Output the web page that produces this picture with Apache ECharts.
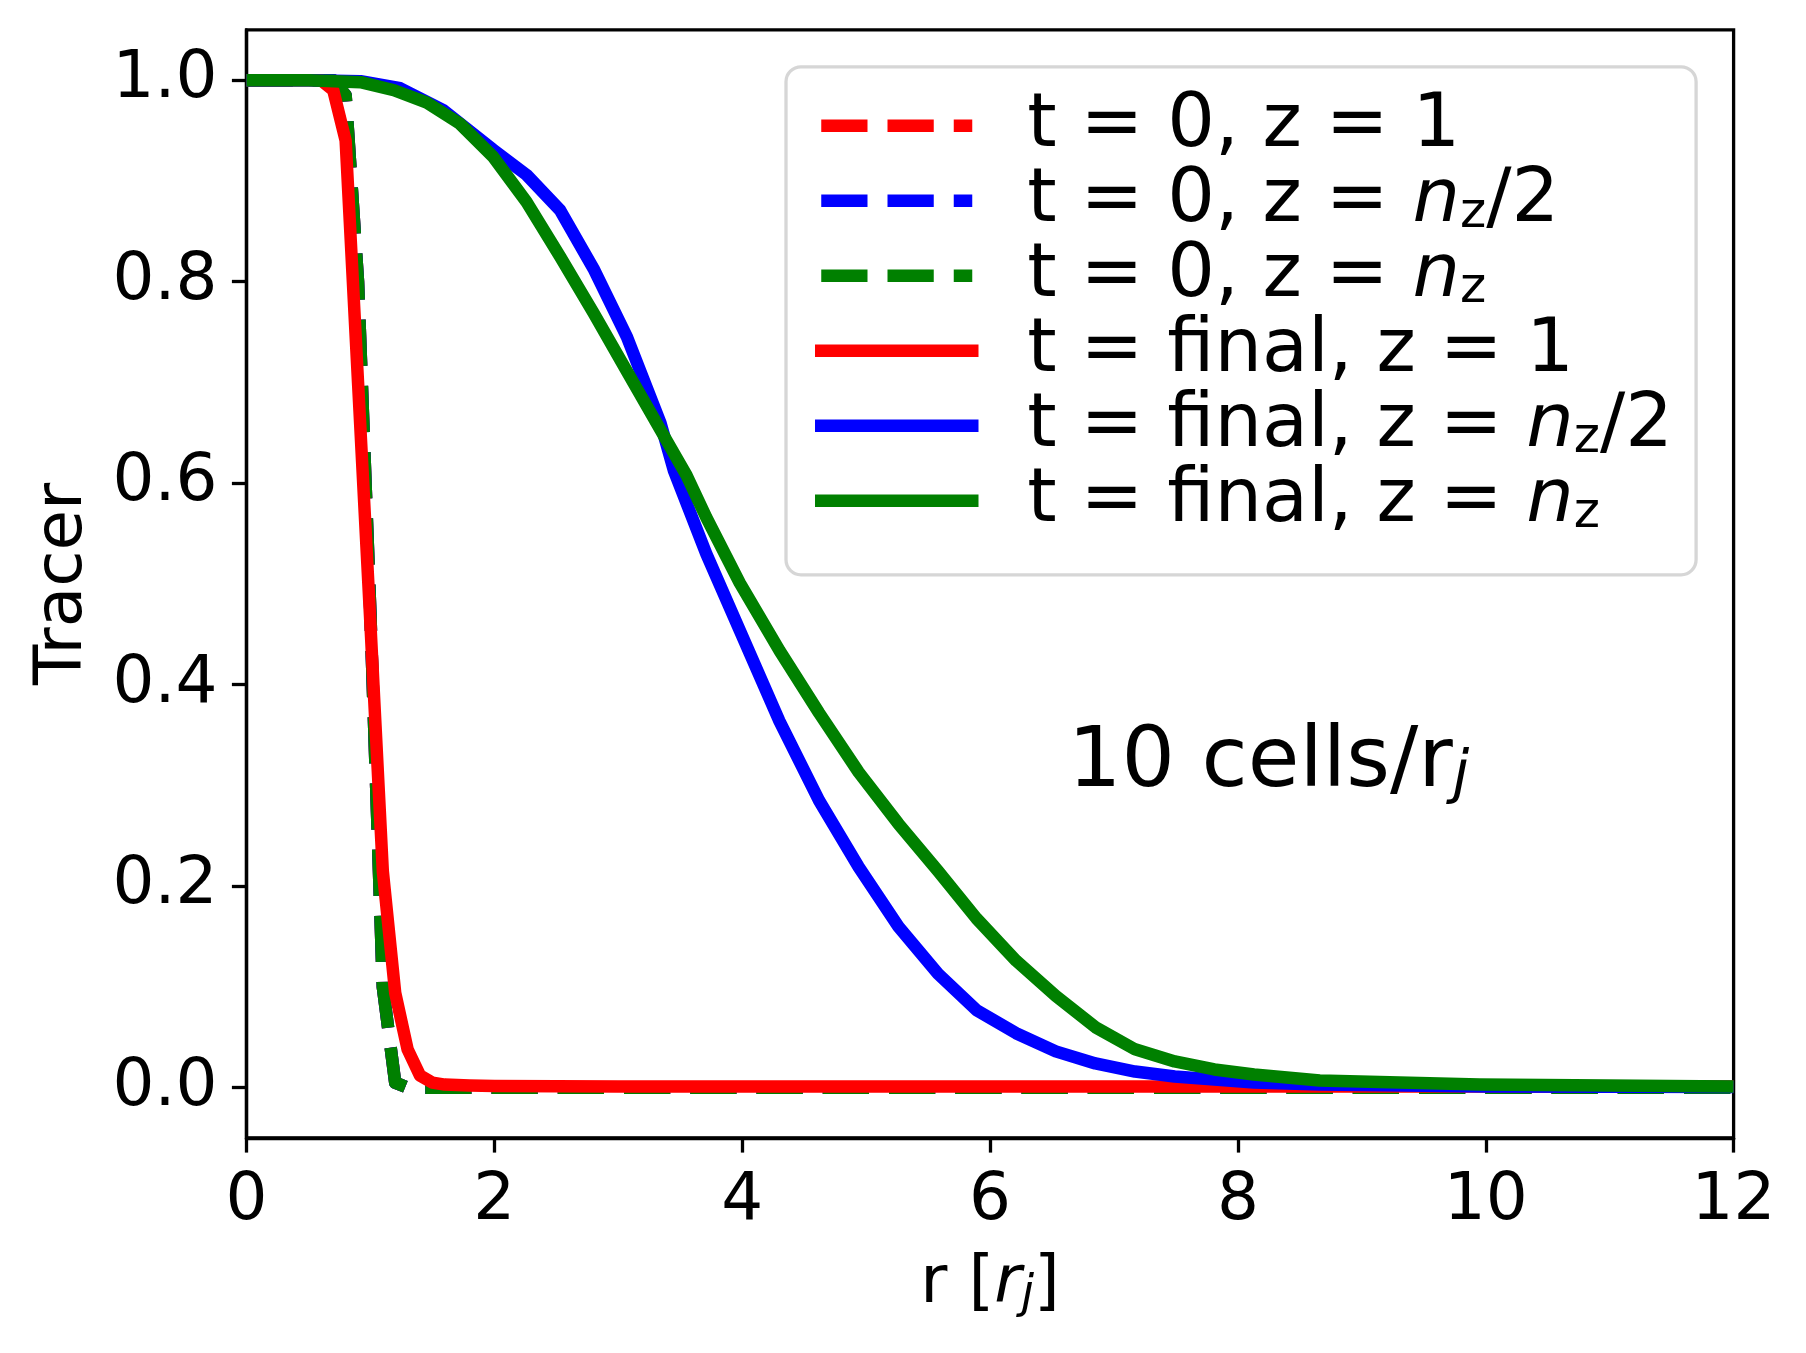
<!DOCTYPE html>
<html>
<head>
<meta charset="utf-8">
<script src="https://cdn.jsdelivr.net/npm/echarts@6/dist/echarts.min.js"></script>
<style>
html, body { margin: 0; padding: 0; background: #fff; }
#tracer_chart { width: 1806px; height: 1353px; }
</style>
</head>
<body>
<div id="tracer_chart"></div>
<script>
// radius values [r_j] and tracer values
var rInit = [0, 0.5, 0.7, 0.8, 0.9, 1.0, 1.1, 1.2, 1.3, 1.5, 2, 4, 6, 8, 10, 12];
var tracerInitZ1 = [1, 1, 1, 0.985, 0.80, 0.47, 0.10, 0.005, 0, 0, 0, 0, 0, 0, 0, 0];
var tracerInitZhalf = [1, 1, 1, 0.985, 0.80, 0.47, 0.10, 0.005, 0, 0, 0, 0, 0, 0, 0, 0];
var tracerInitZtop = [1, 1, 1, 0.985, 0.80, 0.47, 0.10, 0.005, 0, 0, 0, 0, 0, 0, 0, 0];

var rFinalZ1 = [0, 0.5, 0.6, 0.7, 0.8, 0.9, 1.0, 1.1, 1.2, 1.3, 1.4, 1.5, 1.6, 1.8, 2, 3, 4, 6, 8, 10, 12];
var tracerFinalZ1 = [1, 1, 1, 0.99, 0.94, 0.70, 0.46, 0.215, 0.094, 0.038, 0.012, 0.005, 0.003, 0.002, 0.0015, 0.001, 0.001, 0.001, 0.001, 0.001, 0.001];

var rFinalZhalf = [0, 0.5, 0.92, 1.24, 1.59, 1.99, 2.26, 2.53, 2.80, 3.07, 3.34, 3.45, 3.71, 3.98, 4.30, 4.62, 4.94, 5.26, 5.58, 5.89, 6.21, 6.53, 6.85, 7.17, 7.49, 8.13, 8.66, 10, 12];
var tracerFinalZhalf = [1, 1, 0.999, 0.992, 0.970, 0.931, 0.906, 0.871, 0.813, 0.745, 0.660, 0.612, 0.530, 0.454, 0.364, 0.285, 0.219, 0.160, 0.113, 0.077, 0.054, 0.036, 0.024, 0.016, 0.011, 0.005, 0.003, 0.001, 0.0005];

var rFinalZtop = [0, 0.5, 0.92, 1.19, 1.45, 1.72, 1.99, 2.26, 2.53, 2.80, 3.07, 3.34, 3.55, 3.71, 3.98, 4.30, 4.62, 4.94, 5.26, 5.58, 5.89, 6.21, 6.53, 6.85, 7.17, 7.49, 7.81, 8.13, 8.66, 9.95, 12];
var tracerFinalZtop = [1, 1, 0.998, 0.990, 0.978, 0.957, 0.924, 0.879, 0.825, 0.769, 0.711, 0.653, 0.608, 0.566, 0.501, 0.434, 0.372, 0.313, 0.262, 0.215, 0.168, 0.126, 0.091, 0.060, 0.038, 0.026, 0.018, 0.013, 0.007, 0.003, 0.001];

var yTicks = [0, 0.2, 0.4, 0.6, 0.8, 1.0];
var seriesNames = ['t = 0, z = 1', 't = 0, z = nz/2', 't = 0, z = nz',
	't = final, z = 1', 't = final, z = nz/2', 't = final, z = nz'];
var legendRich = ['{g|}{a|t = 0, z = 1}', '{g|}{a|t = 0, z = }{i|n}{s|z}{a|/2}', '{g|}{a|t = 0, z = }{i|n}{s|z}',
	'{g|}{a|t = final, z = 1}', '{g|}{a|t = final, z = }{i|n}{s|z}{a|/2}', '{g|}{a|t = final, z = }{i|n}{s|z}'];

function pairs(xs, ys) {
	var out = [];
	for (var i = 0; i < xs.length; i++) out.push([xs[i], ys[i]]);
	return out;
}

var FONT = 'DejaVu Sans';
var LW = 12.5;
var DASH = [46.25, 20];

function lineSeries(name, xs, ys, color, dashed) {
	return {
		name: name,
		type: 'line',
		data: pairs(xs, ys),
		symbol: 'none',
		animation: false,
		lineStyle: {
			color: color,
			width: LW,
			type: dashed ? DASH : 'solid',
			cap: 'butt',
			join: 'round'
		},
		emphasis: { disabled: true }
	};
}

function legendItem(i) {
	// solid handles get projecting caps like the original, dashed ones stay butt
	var solid = i >= 3;
	return { name: seriesNames[i], lineStyle: { width: LW, cap: solid ? 'square' : 'butt' } };
}

var myChart = echarts.init(document.getElementById('tracer_chart'));
var option = {
	backgroundColor: '#fff',
	animation: false,
	grid: {
		left: 246.5,
		right: 72.4,
		top: 29.8,
		bottom: 215,
		show: true,
		borderColor: '#000',
		borderWidth: 3.3
	},
	xAxis: {
		type: 'value',
		min: 0,
		max: 12,
		interval: 2,
		name: '{a|r [}{i|r}{s|j}{a|]}',
		nameLocation: 'middle',
		nameGap: 114,
		nameTextStyle: {
			rich: {
				a: { fontFamily: FONT, fontSize: 66, lineHeight: 66, color: '#000' },
				i: { fontFamily: FONT, fontStyle: 'italic', fontSize: 66, lineHeight: 66, color: '#000' },
				s: { fontFamily: FONT, fontStyle: 'italic', fontSize: 46, lineHeight: 32, verticalAlign: 'bottom', color: '#000' }
			}
		},
		axisLine: { onZero: false, lineStyle: { color: '#000', width: 3.3 } },
		axisTick: { length: 14.6, lineStyle: { color: '#000', width: 3.3 } },
		axisLabel: { margin: 31, fontFamily: FONT, fontSize: 66, color: '#000' },
		splitLine: { show: false }
	},
	yAxis: {
		type: 'value',
		min: -0.05,
		max: 1.05,
		name: 'Tracer',
		nameLocation: 'middle',
		nameRotate: 90,
		nameGap: 150,
		nameTextStyle: { fontFamily: FONT, fontSize: 66, color: '#000' },
		axisLine: { show: true, onZero: false, lineStyle: { color: '#000', width: 3.3 } },
		axisTick: { show: true, length: 14.6, customValues: yTicks, lineStyle: { color: '#000', width: 3.3 } },
		axisLabel: {
			margin: 29,
			customValues: yTicks,
			fontFamily: FONT,
			fontSize: 66,
			color: '#000',
			formatter: function(v) { return v.toFixed(1); }
		},
		splitLine: { show: false }
	},
	legend: {
		orient: 'vertical',
		left: 786,
		top: 66.8,
		padding: [21.75, 23, 36.25, 29],
		itemGap: 0,
		itemWidth: 151,
		itemHeight: 14,
		selectedMode: false,
		backgroundColor: 'rgba(255,255,255,0.8)',
		borderColor: '#d6d6d6',
		borderWidth: 3.3,
		borderRadius: 15,
		data: [0, 1, 2, 3, 4, 5].map(legendItem),
		itemStyle: { opacity: 0 },
		lineStyle: { width: LW },
		formatter: function(name) { return legendRich[seriesNames.indexOf(name)]; },
		textStyle: {
			rich: {
				g: { width: 50, lineHeight: 75.7 },
				a: { fontFamily: FONT, fontSize: 75, lineHeight: 57.7, verticalAlign: 'bottom', color: '#000' },
				i: { fontFamily: FONT, fontStyle: 'italic', fontSize: 75, lineHeight: 57.7, verticalAlign: 'bottom', color: '#000' },
				s: { fontFamily: FONT, fontSize: 50, lineHeight: 21.4, verticalAlign: 'bottom', color: '#000' }
			}
		}
	},
	graphic: [{
		type: 'text',
		left: 1068,
		top: 722,
		silent: true,
		style: {
			text: '{a|10 cells/r}{s|j}',
			rich: {
				a: { fontFamily: FONT, fontSize: 84, lineHeight: 84, fill: '#000' },
				s: { fontFamily: FONT, fontStyle: 'italic', fontSize: 59, lineHeight: 47, verticalAlign: 'bottom', fill: '#000' }
			}
		}
	}],
	series: [
		lineSeries(seriesNames[0], rInit, tracerInitZ1, '#ff0000', true),
		lineSeries(seriesNames[1], rInit, tracerInitZhalf, '#0000ff', true),
		lineSeries(seriesNames[2], rInit, tracerInitZtop, '#008000', true),
		lineSeries(seriesNames[3], rFinalZ1, tracerFinalZ1, '#ff0000', false),
		lineSeries(seriesNames[4], rFinalZhalf, tracerFinalZhalf, '#0000ff', false),
		lineSeries(seriesNames[5], rFinalZtop, tracerFinalZtop, '#008000', false)
	]
};
window.onresize = myChart.resize;
myChart.setOption(option);
</script>
</body>
</html>
